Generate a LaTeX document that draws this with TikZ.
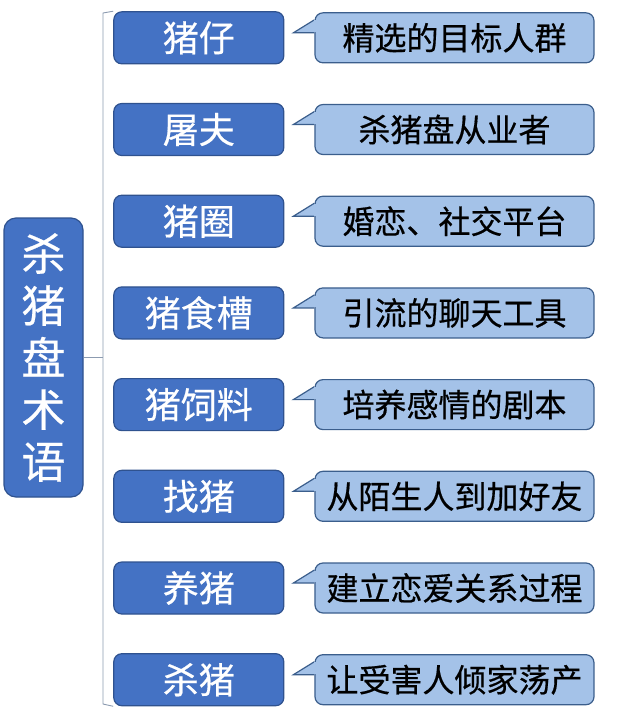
\documentclass[tikz,border=0pt]{standalone}
\usepackage{fontspec}
\setmainfont{Noto Sans CJK SC}[FakeBold=0.5]
\usetikzlibrary{matrix,calc}
\definecolor{termblue}{HTML}{4472C4}
\definecolor{termedge}{HTML}{2F528F}
\definecolor{notefill}{HTML}{A4C2E8}
\definecolor{noteedge}{HTML}{3B5E8C}
\definecolor{bracegray}{HTML}{8C9BB0}
\tikzset{
  rootbox/.style={draw=termedge,fill=termblue,line width=1.2pt,rounded corners=12pt,text=white,
    minimum width=79pt,minimum height=279pt,inner sep=0pt,align=center,font=\fontsize{44}{52}\selectfont},
  termbox/.style={draw=termedge,fill=termblue,line width=1.2pt,rounded corners=8pt,text=white,
    minimum width=170pt,minimum height=52pt,inner sep=0pt,font=\fontsize{36}{40}\selectfont},
  notebox/.style={draw=noteedge,fill=notefill,line width=1.2pt,rounded corners=8pt,
    minimum width=279pt,minimum height=50pt,inner sep=0pt,font=\fontsize{32}{36}\selectfont},
  notetip/.style={fill=notefill,draw=noteedge,line width=1.2pt,line join=miter},
  bracket/.style={draw=bracegray,line width=0.9pt}
}

\begin{document}
\begin{tikzpicture}[x=1pt,y=1pt]
  \useasboundingbox (0,0) rectangle (640,-716);
  \node[rootbox] (root) at (43.5,-357.5) {杀\\猪\\盘\\术\\语};
  \matrix (m) [matrix of nodes,anchor=north west,inner sep=0pt,row sep=38.5pt,column sep=30pt,
    nodes={anchor=center},column 1/.style={nodes={termbox}},column 2/.style={nodes={notebox}},
    ampersand replacement=\&] at (113,-11)
   {
     猪仔 \& 精选的目标人群 \\
     屠夫 \& 杀猪盘从业者 \\
     猪圈 \& 婚恋、社交平台 \\
     猪食槽 \& 引流的聊天工具 \\
     猪饲料 \& 培养感情的剧本 \\
     找猪 \& 从陌生人到加好友 \\
     养猪 \& 建立恋爱关系过程 \\
     杀猪 \& 让受害人倾家荡产 \\
   };
  \foreach \r in {1,...,8}{
    \filldraw[notetip] ($(m-\r-2.west)+(0,18)$) -- ($(m-\r-2.west)+(-21,5)$) -- ($(m-\r-2.west)+(0,5)$);
    \fill[notefill] ($(m-\r-2.west)+(-0.3,17.4)$) rectangle ($(m-\r-2.west)+(2,5.6)$);
  }
  \coordinate (brtop) at (103,-13);
  \coordinate (brbot) at (103,-704);
  \draw[bracket] (m-1-1.north west) -- (brtop) -- (brbot) -- (m-8-1.south west);
  \draw[bracket] (root.east) -- (root.east -| brtop);
\end{tikzpicture}
\end{document}
